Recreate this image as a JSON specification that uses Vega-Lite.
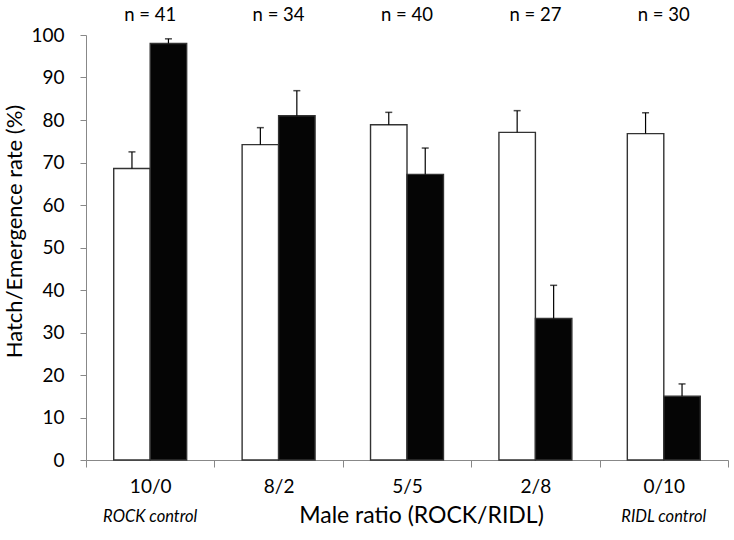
{
  "$schema": "https://vega.github.io/schema/vega-lite/v6.json",
  "autosize": {"type": "none"},
  "padding": {"left": 86, "top": 35, "right": 6, "bottom": 80},
  "width": 642,
  "height": 425,
  "config": {
    "view": {"stroke": null},
    "font": "Lato",
    "axisY": {"titleY": 196, "titleFontSize": 22, "titlePadding": 4}
  },
  "datasets": {
    "bars": [
      {"group": "10/0", "type": "Hatch", "value": 68.6, "upper": 72.5},
      {"group": "10/0", "type": "Emergence", "value": 98.0, "upper": 99.1},
      {"group": "8/2", "type": "Hatch", "value": 74.2, "upper": 78.2},
      {"group": "8/2", "type": "Emergence", "value": 81.0, "upper": 86.9},
      {"group": "5/5", "type": "Hatch", "value": 78.9, "upper": 81.8},
      {"group": "5/5", "type": "Emergence", "value": 67.2, "upper": 73.4},
      {"group": "2/8", "type": "Hatch", "value": 77.1, "upper": 82.2},
      {"group": "2/8", "type": "Emergence", "value": 33.3, "upper": 41.1},
      {"group": "0/10", "type": "Hatch", "value": 76.8, "upper": 81.7},
      {"group": "0/10", "type": "Emergence", "value": 15.0, "upper": 17.9}
    ],
    "ns": [
      {"group": "10/0", "label": "n = 41"},
      {"group": "8/2", "label": "n = 34"},
      {"group": "5/5", "label": "n = 40"},
      {"group": "2/8", "label": "n = 27"},
      {"group": "0/10", "label": "n = 30"}
    ],
    "notes": [
      {"group": "10/0", "note": "ROCK control"},
      {"group": "0/10", "note": "RIDL control"}
    ]
  },
  "encoding": {
    "x": {
      "field": "group",
      "type": "nominal",
      "sort": ["10/0", "8/2", "5/5", "2/8", "0/10"],
      "scale": {"paddingInner": 0, "paddingOuter": 0},
      "axis": {
        "title": "Male ratio (ROCK/RIDL)",
        "labelAngle": 0,
        "tickBand": "extent",
        "tickSize": 7,
        "tickColor": "#888888",
        "domainColor": "#888888",
        "labelFontSize": 19,
        "labelColor": "black",
        "labelPadding": 10,
        "titleFontSize": 23,
        "titleFontWeight": "normal",
        "titleColor": "black",
        "titlePadding": 8,
        "titleX": 335
      }
    }
  },
  "layer": [
    {
      "data": {"name": "bars"},
      "mark": {"type": "bar", "stroke": "#333333", "strokeWidth": 1.4},
      "encoding": {
        "xOffset": {
          "field": "type",
          "type": "nominal",
          "sort": ["Hatch", "Emergence"],
          "scale": {"paddingInner": 0, "paddingOuter": 0.76}
        },
        "y": {
          "field": "value",
          "type": "quantitative",
          "scale": {"domain": [0, 100], "nice": false},
          "axis": {
            "title": "Hatch/Emergence rate (%)",
            "values": [0, 10, 20, 30, 40, 50, 60, 70, 80, 90, 100],
            "grid": false,
            "tickSize": 6,
            "tickColor": "#888888",
            "domainColor": "#888888",
            "labelFontSize": 19,
            "labelColor": "black",
            "labelPadding": 16,
            "titleFontWeight": "normal",
            "titleColor": "black"
          }
        },
        "fill": {
          "field": "type",
          "type": "nominal",
          "scale": {"domain": ["Hatch", "Emergence"], "range": ["#ffffff", "#050505"]},
          "legend": null
        }
      }
    },
    {
      "data": {"name": "bars"},
      "mark": {"type": "rule", "color": "black", "strokeWidth": 1.2},
      "encoding": {
        "xOffset": {"field": "type", "type": "nominal", "sort": ["Hatch", "Emergence"]},
        "y": {"field": "value", "type": "quantitative"},
        "y2": {"field": "upper"}
      }
    },
    {
      "data": {"name": "bars"},
      "mark": {"type": "tick", "color": "black", "size": 7, "thickness": 1.5},
      "encoding": {
        "xOffset": {"field": "type", "type": "nominal", "sort": ["Hatch", "Emergence"]},
        "y": {"field": "upper", "type": "quantitative"}
      }
    },
    {
      "data": {"name": "ns"},
      "mark": {"type": "text", "fontSize": 18.5, "color": "black", "baseline": "middle"},
      "encoding": {
        "y": {"datum": 104.6, "type": "quantitative"},
        "text": {"field": "label"}
      }
    },
    {
      "data": {"name": "notes"},
      "mark": {"type": "text", "fontSize": 16.5, "fontStyle": "italic", "color": "black", "baseline": "middle"},
      "encoding": {
        "y": {"datum": -13.3, "type": "quantitative"},
        "text": {"field": "note"}
      }
    }
  ]
}
